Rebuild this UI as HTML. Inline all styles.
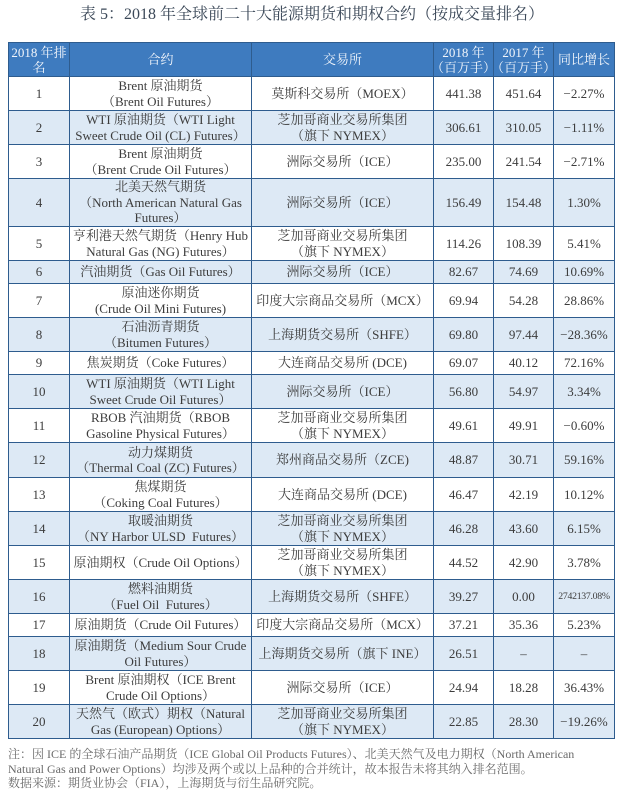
<!DOCTYPE html>
<html><head><meta charset="utf-8">
<style>
html,body{margin:0;padding:0;background:#fff;}
body{width:624px;height:804px;position:relative;overflow:hidden;font-family:"Liberation Serif","Noto Serif CJK SC",serif;}
.title{position:absolute;left:0;top:4px;width:624px;text-align:center;font-size:16px;line-height:22px;color:#3b4858;white-space:nowrap;}
.grid{position:absolute;left:8px;top:42px;display:grid;
 grid-template-columns:61px 182px 182px 60px 60px 61px;
 grid-template-rows:34px 34px 34px 34px 48px 34px 23px 34px 34px 23px 34px 34px 35px 34px 34px 34px 34px 23px 34px 34px 34px;
 border-left:1px solid #2e5c8e;border-top:1px solid #2e5c8e;box-sizing:border-box;}
.grid>div{box-sizing:border-box;border-right:1px solid #2e5c8e;border-bottom:1px solid #2e5c8e;display:flex;align-items:center;justify-content:center;text-align:center;font-size:13px;line-height:15.5px;color:#3c3c3c;white-space:nowrap;overflow:visible;}
.grid>div.h{background:#3e7bbf;color:#f1f5fb;font-size:13px;line-height:15px;}
.grid>div.l{background:#dde9f5;}
.grid>div.sm{font-size:9.8px;letter-spacing:-0.3px;}
.notes{position:absolute;left:8px;top:747px;font-size:12px;line-height:14.5px;color:#6a6a6a;white-space:nowrap;font-family:"Liberation Serif","Noto Serif CJK SC",serif;}
</style></head><body>
<div class="title">表 5：2018 年全球前二十大能源期货和期权合约（按成交量排名）</div>
<div class="grid">
<div class="h">2018 年排<br>名</div><div class="h">合约</div><div class="h">交易所</div><div class="h">2018 年<br>（百万手）</div><div class="h">2017 年<br>（百万手）</div><div class="h">同比增长</div>

<div>1</div><div>Brent 原油期货<br>（Brent Oil Futures）</div><div>莫斯科交易所（MOEX）</div><div>441.38</div><div>451.64</div><div>−2.27%</div>

<div class="l">2</div><div class="l">WTI 原油期货（WTI Light<br>Sweet Crude Oil (CL) Futures）</div><div class="l">芝加哥商业交易所集团<br>（旗下 NYMEX）</div><div class="l">306.61</div><div class="l">310.05</div><div class="l">−1.11%</div>

<div>3</div><div>Brent 原油期货<br>（Brent Crude Oil Futures）</div><div>洲际交易所（ICE）</div><div>235.00</div><div>241.54</div><div>−2.71%</div>

<div class="l">4</div><div class="l">北美天然气期货<br>（North American Natural Gas<br>Futures）</div><div class="l">洲际交易所（ICE）</div><div class="l">156.49</div><div class="l">154.48</div><div class="l">1.30%</div>

<div>5</div><div>亨利港天然气期货（Henry Hub<br>Natural Gas (NG) Futures）</div><div>芝加哥商业交易所集团<br>（旗下 NYMEX）</div><div>114.26</div><div>108.39</div><div>5.41%</div>

<div class="l">6</div><div class="l">汽油期货（Gas Oil Futures）</div><div class="l">洲际交易所（ICE）</div><div class="l">82.67</div><div class="l">74.69</div><div class="l">10.69%</div>

<div>7</div><div>原油迷你期货<br>(Crude Oil Mini Futures)</div><div>印度大宗商品交易所（MCX）</div><div>69.94</div><div>54.28</div><div>28.86%</div>

<div class="l">8</div><div class="l">石油沥青期货<br>（Bitumen Futures）</div><div class="l">上海期货交易所（SHFE）</div><div class="l">69.80</div><div class="l">97.44</div><div class="l">−28.36%</div>

<div>9</div><div>焦炭期货（Coke Futures）</div><div>大连商品交易所 (DCE)</div><div>69.07</div><div>40.12</div><div>72.16%</div>

<div class="l">10</div><div class="l">WTI 原油期货（WTI Light<br>Sweet Crude Oil Futures）</div><div class="l">洲际交易所（ICE）</div><div class="l">56.80</div><div class="l">54.97</div><div class="l">3.34%</div>

<div>11</div><div>RBOB 汽油期货（RBOB<br>Gasoline Physical Futures）</div><div>芝加哥商业交易所集团<br>（旗下 NYMEX）</div><div>49.61</div><div>49.91</div><div>−0.60%</div>

<div class="l">12</div><div class="l">动力煤期货<br>（Thermal Coal (ZC) Futures）</div><div class="l">郑州商品交易所（ZCE)</div><div class="l">48.87</div><div class="l">30.71</div><div class="l">59.16%</div>

<div>13</div><div>焦煤期货<br>（Coking Coal Futures）</div><div>大连商品交易所 (DCE)</div><div>46.47</div><div>42.19</div><div>10.12%</div>

<div class="l">14</div><div class="l">取暖油期货<br>（NY Harbor ULSD&nbsp; Futures）</div><div class="l">芝加哥商业交易所集团<br>（旗下 NYMEX）</div><div class="l">46.28</div><div class="l">43.60</div><div class="l">6.15%</div>

<div>15</div><div>原油期权（Crude Oil Options）</div><div>芝加哥商业交易所集团<br>（旗下 NYMEX）</div><div>44.52</div><div>42.90</div><div>3.78%</div>

<div class="l">16</div><div class="l">燃料油期货<br>（Fuel Oil&nbsp; Futures）</div><div class="l">上海期货交易所（SHFE）</div><div class="l">39.27</div><div class="l">0.00</div><div class="l sm">2742137.08%</div>

<div>17</div><div>原油期货（Crude Oil Futures）</div><div>印度大宗商品交易所（MCX）</div><div>37.21</div><div>35.36</div><div>5.23%</div>

<div class="l">18</div><div class="l">原油期货（Medium Sour Crude<br>Oil Futures）</div><div class="l">上海期货交易所（旗下 INE）</div><div class="l">26.51</div><div class="l">–</div><div class="l">–</div>

<div>19</div><div>Brent 原油期权（ICE Brent<br>Crude Oil Options）</div><div>洲际交易所（ICE）</div><div>24.94</div><div>18.28</div><div>36.43%</div>

<div class="l">20</div><div class="l">天然气（欧式）期权（Natural<br>Gas (European) Options）</div><div class="l">芝加哥商业交易所集团<br>（旗下 NYMEX）</div><div class="l">22.85</div><div class="l">28.30</div><div class="l">−19.26%</div>
</div>
<div class="notes">注：因 ICE 的全球石油产品期货（ICE Global Oil Products Futures）、北美天然气及电力期权（North American<br>Natural Gas and Power Options）均涉及两个或以上品种的合并统计，故本报告未将其纳入排名范围。<br>数据来源：期货业协会（FIA），上海期货与衍生品研究院。</div>
</body></html>
